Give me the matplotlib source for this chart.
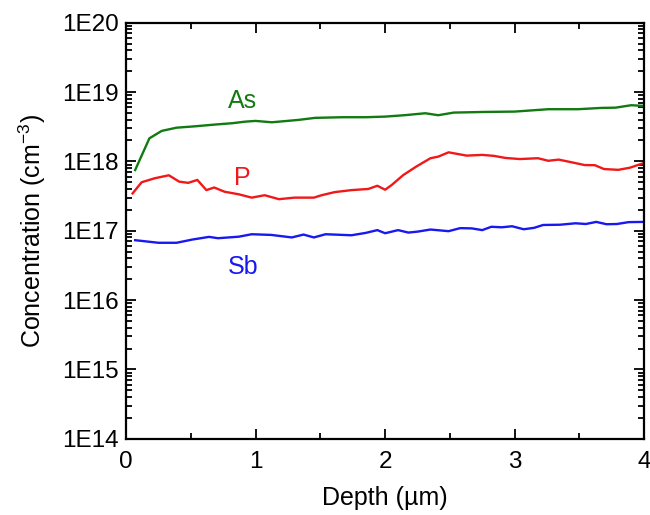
import numpy as np
import matplotlib.pyplot as plt
from matplotlib.ticker import FixedLocator, FuncFormatter, LogLocator, MultipleLocator, NullFormatter

plt.rcParams["font.family"] = ["Liberation Sans", "DejaVu Sans"]

# depth profiles (um, cm^-3)
as_depth = [0.07, 0.18, 0.275, 0.39, 0.53, 0.69, 0.82, 0.92, 1.0, 1.125, 1.33, 1.46,
            1.67, 1.85, 2.0, 2.15, 2.31, 2.41, 2.53, 2.77, 3.0, 3.26, 3.49, 3.67,
            3.78, 3.90, 4.0]
as_conc = [7.5e17, 2.15e18, 2.75e18, 3.06e18, 3.2e18, 3.4e18, 3.55e18, 3.74e18,
           3.83e18, 3.66e18, 3.96e18, 4.24e18, 4.33e18, 4.33e18, 4.42e18, 4.63e18,
           4.94e18, 4.63e18, 5.05e18, 5.16e18, 5.22e18, 5.65e18, 5.65e18, 5.9e18,
           5.95e18, 6.45e18, 6.3e18]

p_depth = [0.05, 0.12, 0.22, 0.33, 0.41, 0.48, 0.55, 0.62, 0.68, 0.76, 0.87, 0.97,
           1.07, 1.18, 1.30, 1.45, 1.51, 1.61, 1.74, 1.87, 1.94, 2.0, 2.05, 2.14,
           2.24, 2.35, 2.41, 2.49, 2.63, 2.75, 2.84, 2.93, 3.04, 3.18, 3.26, 3.34,
           3.44, 3.54, 3.62, 3.69, 3.80, 3.89, 4.0]
p_conc = [3.45e17, 5.0e17, 5.7e17, 6.3e17, 5.1e17, 4.9e17, 5.4e17, 3.85e17, 4.2e17,
          3.65e17, 3.35e17, 3.0e17, 3.25e17, 2.85e17, 3.0e17, 3.0e17, 3.25e17,
          3.6e17, 3.85e17, 4.0e17, 4.45e17, 3.9e17, 4.55e17, 6.35e17, 8.4e17,
          1.11e18, 1.17e18, 1.35e18, 1.21e18, 1.24e18, 1.2e18, 1.12e18, 1.08e18,
          1.11e18, 1.02e18, 1.06e18, 9.7e17, 8.85e17, 8.8e17, 7.75e17, 7.55e17,
          8.1e17, 9.5e17]

sb_depth = [0.07, 0.25, 0.39, 0.51, 0.64, 0.71, 0.87, 0.97, 1.12, 1.28, 1.37, 1.45,
            1.54, 1.74, 1.85, 1.94, 2.0, 2.10, 2.18, 2.25, 2.35, 2.49, 2.58, 2.67,
            2.75, 2.82, 2.9, 2.98, 3.07, 3.15, 3.22, 3.35, 3.47, 3.55, 3.63, 3.71,
            3.79, 3.88, 4.0]
sb_conc = [7.3e16, 6.7e16, 6.7e16, 7.45e16, 8.15e16, 7.8e16, 8.2e16, 8.9e16, 8.7e16,
           8.0e16, 8.8e16, 8.0e16, 8.9e16, 8.6e16, 9.3e16, 1.02e17, 9.2e16, 1.02e17,
           9.4e16, 9.7e16, 1.04e17, 9.85e16, 1.09e17, 1.08e17, 1.02e17, 1.14e17,
           1.12e17, 1.16e17, 1.05e17, 1.1e17, 1.21e17, 1.22e17, 1.28e17, 1.25e17,
           1.34e17, 1.24e17, 1.25e17, 1.33e17, 1.34e17]

species = ["As", "P", "Sb"]
colors = ["#117a11", "#f01818", "#1818f0"]
label_pos = [(0.9, 7.3e18), (0.9, 5.8e17), (0.9, 3.0e16)]

fig = plt.figure(figsize=(6.5, 5.15), dpi=100)
ax = fig.add_axes([0.194, 0.148, 0.797, 0.808])

profiles = [(as_depth, as_conc), (p_depth, p_conc), (sb_depth, sb_conc)]
for (d, c), name, col, (lx, ly) in zip(profiles, species, colors, label_pos):
    ax.plot(d, c, color=col, lw=1.7)
    ax.text(lx, ly, name, color=col, fontsize=18, ha="center", va="center")

ax.set_yscale("log")
ax.set_xlim(0, 4)
ax.set_ylim(1e14, 1e20)

ax.xaxis.set_major_locator(MultipleLocator(1))
ax.xaxis.set_minor_locator(MultipleLocator(0.5))
ax.yaxis.set_major_locator(FixedLocator([10.0 ** k for k in range(14, 21)]))
ax.yaxis.set_minor_locator(LogLocator(base=10, subs=np.arange(2, 10), numticks=20))
ax.yaxis.set_minor_formatter(NullFormatter())
ax.yaxis.set_major_formatter(FuncFormatter(lambda v, pos: f"1E{int(round(np.log10(v)))}"))

ax.tick_params(which="both", direction="in", top=True, right=True, width=1.3,
               labelsize=17.5)
ax.tick_params(axis="x", pad=9)
ax.tick_params(axis="y", pad=5.5)
ax.tick_params(which="major", length=7)
ax.tick_params(which="minor", length=4)
for s in ax.spines.values():
    s.set_linewidth(1.6)

ax.set_xlabel("Depth (\u00b5m)", fontsize=18, labelpad=9)
ax.set_ylabel("Concentration (cm$^{\\mathregular{-3}}$)", fontsize=18, labelpad=10)

fig.savefig("out.png", dpi=100)
